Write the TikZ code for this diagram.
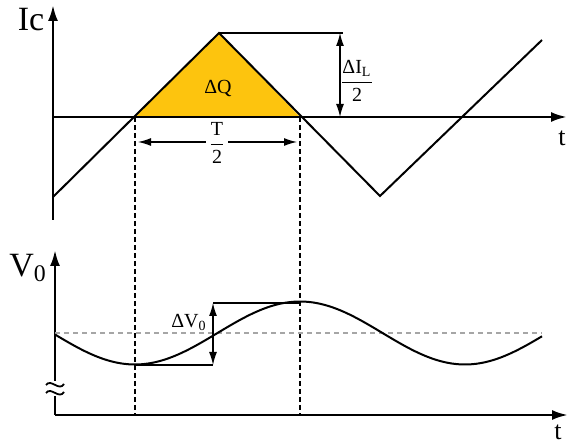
\documentclass[tikz,border=0pt]{standalone}
\usepackage{amsmath}
\usepackage{fontspec}
\setmainfont{Liberation Serif}
\usetikzlibrary{arrows.meta, positioning, calc}
\definecolor{chargefill}{RGB}{253,196,14}

\begin{document}
\begin{tikzpicture}[
      x=0.5pt, y=-0.5pt,
      % Styles
      axis/.style={
        line width=1.3pt, -{Latex[length=8pt,width=5pt]}
      },
      wave/.style={
        line width=1pt, line join=miter
      },
      guide/.style={
        line width=0.6pt, dash pattern=on 2.5pt off 1.5pt
      },
      level/.style={
        line width=0.6pt, gray!70, dash pattern=on 2.5pt off 2pt
      },
      dim_arrow/.style={
        line width=0.6pt, {Latex[length=6.5pt,width=4pt]}-{Latex[length=6.5pt,width=4pt]}
      },
      axis_label/.style={
        font=\fontsize{17}{17}\selectfont, inner sep=0pt
      },
      t_label/.style={
        font=\fontsize{13}{13}\selectfont, inner sep=0pt
      },
      label_text/.style={
        font=\fontsize{10}{10}\selectfont, inner sep=1pt
      }
    ]

    \useasboundingbox (0,0) rectangle (568,443);

    % --- 1. CURRENT Ic ---

    \coordinate (ic_origin) at (53,117);
    \coordinate (ic_top) at (53,5);
    \coordinate (ic_bottom) at (53,220);
    \coordinate (ic_end) at (567,117);

    \coordinate (wave_start) at (53,197);
    \coordinate (rise_zero) at (135,117);
    \coordinate (peak) at (219,33);
    \coordinate (fall_zero) at (300,117);
    \coordinate (valley) at (380,196);
    \coordinate (wave_end) at (542,40);

    % charge area
    \fill[chargefill] (rise_zero) -- (peak) -- (fall_zero) -- cycle;
    \node[label_text] (dq) at (218,89) {ΔQ};

    % axes
    \draw[line width=1.3pt] (ic_bottom) -- (ic_origin);
    \draw[axis] (ic_origin) -- (ic_top);
    \draw[axis] (ic_origin) -- (ic_end);
    \node[axis_label] (ic_name) at (31,20) {Ic};
    \node[t_label] (ic_t) at (562,138) {t};

    % triangle wave
    \draw[wave] (wave_start) -- (peak) -- (valley) -- (wave_end);

    % delta IL / 2
    \coordinate (il_top) at (343,33);
    \coordinate (il_bot) at (340,117);
    \draw[line width=0.6pt] (peak) -- (il_top);
    \draw[dim_arrow] (340,33) -- (il_bot);
    \node[label_text] (il_label) at (357,81) {$\dfrac{\text{ΔI\textsubscript{L}}}{\text{2}}$};

    % half period
    \coordinate (t1_bottom) at (135,415);
    \coordinate (t2_bottom) at (300,415);
    \draw[guide] (rise_zero) -- (t1_bottom);
    \draw[guide] (fall_zero) -- (t2_bottom);
    \coordinate (half_left) at (138,142);
    \coordinate (half_right) at (297,142);
    \draw[dim_arrow] (half_left) -- (half_right);
    \node[label_text, fill=white] (half_label) at (217,143) {$\dfrac{\text{T}}{\text{2}}$};

    % --- 2. VOLTAGE V0 ---

    \coordinate (vo_origin) at (55,415);
    \coordinate (vo_top) at (55,250);
    \coordinate (vo_end) at (568,415);
    \coordinate (break_low) at (55,396);
    \coordinate (break_high) at (55,381);

    \draw[line width=1.3pt] (vo_origin) -- (break_low);
    \draw[axis] (break_high) -- (vo_top);
    \draw[axis] (vo_origin) -- (vo_end);
    \node[axis_label] (vo_name) at (28,268) {V\textsubscript{0}};
    \node[t_label] (vo_t) at (558,432) {t};

    % break mark
    \draw[line width=0.9pt] (46,385) .. controls (51,378) and (59,392) .. (64,384);
    \draw[line width=0.9pt] (46,393) .. controls (51,386) and (59,400) .. (64,392);

    % mean level
    \coordinate (level_end) at (542,333);
    \draw[level] (55,333) -- (level_end);

    % ripple
    \draw[wave] plot[domain=55:542, samples=120] (\x, {333+31.5*cos(1.0909*(\x-135))});

    % delta V0
    \coordinate (v_min) at (135,365);
    \coordinate (v_max) at (300,303);
    \coordinate (dv_bot) at (213,365);
    \coordinate (dv_top) at (213,303);
    \draw[line width=0.6pt] (v_min) -- (dv_bot);
    \draw[line width=0.6pt] (dv_top) -- (v_max);
    \draw[dim_arrow] (dv_top) -- (dv_bot);
    \node[label_text] (dv_label) at (189,322) {ΔV\textsubscript{0}};

\end{tikzpicture}
\end{document}
